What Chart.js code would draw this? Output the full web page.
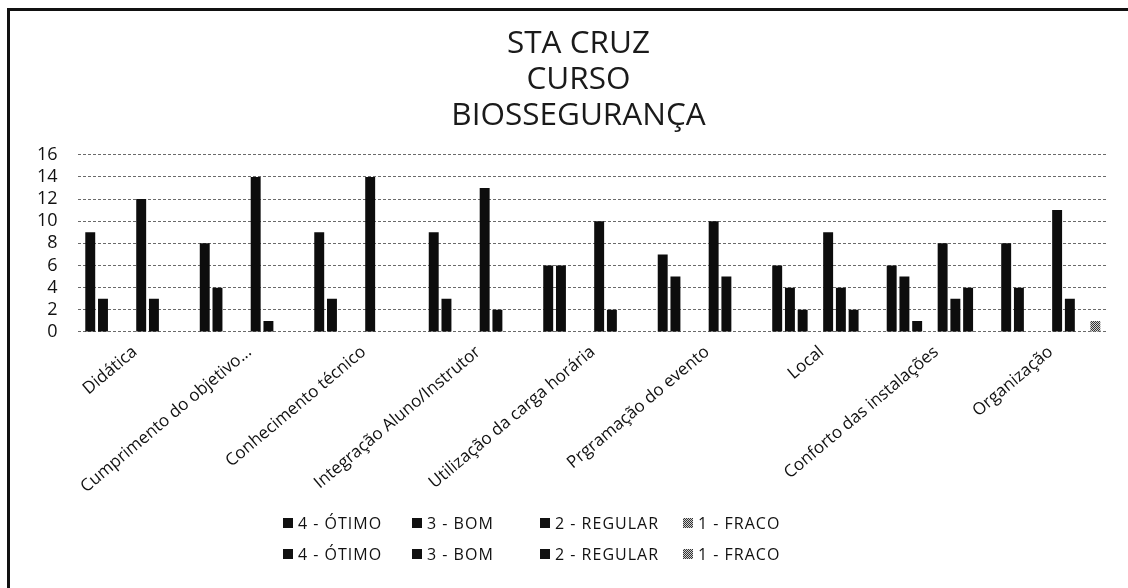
<!DOCTYPE html>
<html>
<head>
<meta charset="utf-8">
<script src="https://cdn.jsdelivr.net/npm/chart.js"></script>
<style>
  body { margin: 0; background: #fff; }
  #quadro { position: relative; width: 1128px; height: 588px; overflow: hidden; }
  #quadro canvas { position: absolute; left: 0; top: 0; }
  .linha-topo { position: absolute; left: 7px; top: 8px; width: 1121px; height: 3px; background: #111; }
  .linha-esq { position: absolute; left: 7px; top: 8px; width: 3px; height: 580px; background: #111; }
  #legenda { position: absolute; left: 283px; top: 511px; display: grid;
    grid-template-columns: 129px 128px 143px 100px; row-gap: 8px;
    font-family: "Open Sans", sans-serif; font-size: 16px; color: #111; letter-spacing: 1px; }
  #legenda div { display: flex; align-items: center; height: 23px; white-space: nowrap; }
  #legenda span.caixa { display: inline-block; width: 10px; height: 10px; margin-right: 5px; background: #111; }
</style>
</head>
<body>
<div id="quadro">
  <canvas id="grafico" width="1160" height="588"></canvas>
  <div class="linha-topo"></div>
  <div class="linha-esq"></div>
  <div id="legenda"></div>
</div>
<script>
const titulo = ["STA CRUZ", "CURSO", "BIOSSEGURANÇA"];
const categorias = ["Didática", "Cumprimento do objetivo...", "Conhecimento técnico",
  "Integração Aluno/Instrutor", "Utilização da carga horária", "Prgramação do evento",
  "Local", "Conforto das instalações", "Organização"];
const notas = ["4 - ÓTIMO", "3 - BOM", "2 - REGULAR", "1 - FRACO"];

// primeiro grupo de respostas
const otimo1   = [9, 8, 9, 9, 6, 7, 6, 6, 8];
const bom1     = [3, 4, 3, 3, 6, 5, 4, 5, 4];
const regular1 = [0, 0, 0, 0, 0, 0, 2, 1, 0];
const fraco1   = [0, 0, 0, 0, 0, 0, 0, 0, 0];
// segundo grupo de respostas
const otimo2   = [12, 14, 14, 13, 10, 10, 9, 8, 11];
const bom2     = [3, 1, 0, 2, 2, 5, 4, 3, 3];
const regular2 = [0, 0, 0, 0, 0, 0, 2, 4, 0];
const fraco2   = [0, 0, 0, 0, 0, 0, 0, 0, 1];

const yTicks = [0, 2, 4, 6, 8, 10, 12, 14, 16];

// padrão cinza quadriculado para "1 - FRACO"
const criar_padrao = () => {
  const c = document.createElement("canvas");
  c.width = 2; c.height = 2;
  const g = c.getContext("2d");
  g.fillStyle = "#d0d0d0"; g.fillRect(0, 0, 2, 2);
  g.fillStyle = "#333"; g.fillRect(0, 0, 1, 1); g.fillRect(1, 1, 1, 1);
  return document.getElementById("grafico").getContext("2d").createPattern(c, "repeat");
};
const padrao = criar_padrao();
const preto = "#0d0d0d";

const series = [otimo1, bom1, regular1, fraco1, otimo2, bom2, regular2, fraco2];
const datasets = series.map((valores, i) => ({
  label: notas[i % 4],
  data: valores,
  backgroundColor: (i % 4 === 3) ? padrao : preto,
  borderWidth: 0,
  categoryPercentage: 0.89,
  barPercentage: 0.78
}));

var ctx = document.getElementById("grafico");
var myChart = new Chart(ctx, {
  type: "bar",
  data: { labels: categorias, datasets: datasets },
  options: {
    responsive: false,
    animation: false,
    layout: { padding: { left: 17, right: 20, top: 0, bottom: 89 } },
    plugins: {
      legend: { display: false },
      tooltip: { enabled: false },
      title: {
        display: true,
        text: titulo,
        color: "#1a1a1a",
        font: { family: "Open Sans", size: 31.5, weight: "normal", lineHeight: 1.14 },
        padding: { top: 26, bottom: 21 }
      }
    },
    scales: {
      x: {
        grid: { display: false },
        border: { display: false },
        ticks: {
          autoSkip: false, minRotation: 40, maxRotation: 40, padding: 2,
          color: "#111", font: { family: "Open Sans", size: 17 }
        }
      },
      y: {
        min: yTicks[0],
        max: yTicks[yTicks.length - 1],
        afterBuildTicks: (scale) => { scale.ticks = yTicks.map(v => ({ value: v })); },
        ticks: { autoSkip: false, padding: 20, color: "#111", font: { family: "Open Sans", size: 18 } },
        grid: { color: "#6a6a6a", lineWidth: 1, drawTicks: false },
        border: { display: false, dash: [3, 2] }
      },
      // eixo vazio à direita: só empurra o centro do título, como no original
      folga: {
        type: "linear", position: "right", display: true,
        grid: { display: false }, border: { display: false }, ticks: { display: false },
        afterFit: (scale) => { scale.width = 32; }
      }
    }
  }
});

// legenda em duas linhas, tirada dos datasets
const legenda = document.getElementById("legenda");
myChart.data.datasets.forEach((ds, i) => {
  const item = document.createElement("div");
  const caixa = document.createElement("span");
  caixa.className = "caixa";
  if (i % 4 === 3) caixa.style.background = "repeating-conic-gradient(#333 0 25%, #d0d0d0 0 50%) 0 0/2px 2px";
  item.appendChild(caixa);
  item.appendChild(document.createTextNode(ds.label));
  legenda.appendChild(item);
});
</script>
</body>
</html>
